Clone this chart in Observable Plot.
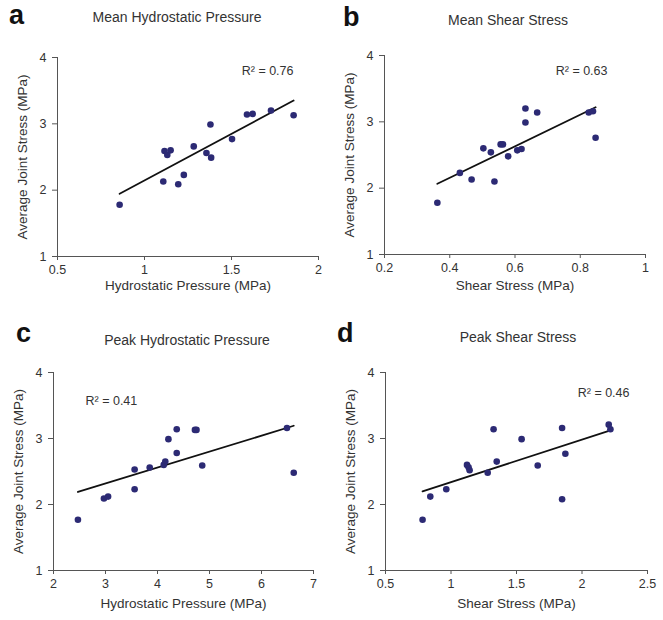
<!DOCTYPE html>
<html><head><meta charset="utf-8">
<script src="https://cdn.jsdelivr.net/npm/d3@7"></script>
<script src="https://cdn.jsdelivr.net/npm/@observablehq/plot@0.6"></script>
<style>
body{margin:0;background:#fff;}
#wrap{position:relative;width:663px;height:620px;overflow:hidden;background:#fff;font-family:Arial,"Liberation Sans",sans-serif;}
.panel{position:absolute;width:331px;height:310px;}
.panel svg{position:absolute;left:0;top:0;}
.letter{position:absolute;font-weight:bold;font-size:27px;color:#111;line-height:1;}
.title{position:absolute;font-size:14px;color:#333;transform:translate(-50%,-50%);white-space:nowrap;}
</style></head>
<body><div id="wrap"></div>
<script>
// ---- data ----
const letters = ["a", "b", "c", "d"];
const titles = ["Mean Hydrostatic Pressure", "Mean Shear Stress", "Peak Hydrostatic Pressure", "Peak Shear Stress"];
const xLabels = ["Hydrostatic Pressure (MPa)", "Shear Stress (MPa)", "Hydrostatic Pressure (MPa)", "Shear Stress (MPa)"];
const yLabel = "Average Joint Stress (MPa)";
const r2Labels = ["R\u00B2 = 0.76", "R\u00B2 = 0.63", "R\u00B2 = 0.41", "R\u00B2 = 0.46"];
const xTicks = [[0.5, 1, 1.5, 2], [0.2, 0.4, 0.6, 0.8, 1], [2, 3, 4, 5, 6, 7], [0.5, 1, 1.5, 2, 2.5]];
const yTicks = [1, 2, 3, 4];

const aX = [0.857, 1.108, 1.194, 1.226, 1.115, 1.131, 1.150, 1.283, 1.356, 1.379, 1.383, 1.503, 1.589, 1.622, 1.727, 1.857];
const aY = [1.78, 2.13, 2.09, 2.23, 2.59, 2.53, 2.60, 2.66, 2.56, 2.99, 2.49, 2.77, 3.14, 3.15, 3.20, 3.13];

const bX = [0.362, 0.431, 0.467, 0.537, 0.503, 0.526, 0.556, 0.563, 0.579, 0.607, 0.620, 0.632, 0.632, 0.668, 0.826, 0.839, 0.847];
const bY = [1.78, 2.23, 2.13, 2.10, 2.60, 2.54, 2.66, 2.66, 2.48, 2.57, 2.59, 2.99, 3.20, 3.14, 3.14, 3.16, 2.76];

const cX = [2.47, 2.97, 3.05, 3.56, 3.56, 3.85, 4.12, 4.15, 4.37, 4.21, 4.37, 4.72, 4.75, 4.86, 6.49, 6.62];
const cY = [1.77, 2.09, 2.12, 2.23, 2.53, 2.56, 2.60, 2.65, 2.78, 2.99, 3.14, 3.13, 3.13, 2.59, 3.16, 2.48];

const dX = [0.783, 0.842, 0.964, 1.122, 1.134, 1.142, 1.280, 1.325, 1.349, 1.539, 1.848, 1.873, 1.848, 2.204, 2.217, 1.662];
const dY = [1.77, 2.12, 2.23, 2.60, 2.565, 2.52, 2.48, 3.14, 2.65, 2.99, 3.16, 2.77, 2.08, 3.21, 3.14, 2.59];

const seriesX = [aX, bX, cX, dX];
const seriesY = [aY, bY, cY, dY];

// ---- layout ----
const panels = [
  {left: 0,   top: 0,   m: [57, 13, 57, 54], letter: [9, 2],  title: [177, 17], r2: {anchor: "top-right", dx: -25, dy: 13, ta: "end"}, xlab: 29},
  {left: 332, top: 0,   m: [52, 18, 55, 56], letter: [11, 4], title: [176, 20], r2: {anchor: "top-right", dx: -38, dy: 15, ta: "end"}, xlab: 31},
  {left: 0,   top: 310, m: [53, 18, 62, 50], letter: [16, 10], title: [187, 30], r2: {anchor: "top-left",  dx: 32,  dy: 28, ta: "start"}, xlab: 33},
  {left: 332, top: 310, m: [53, 16, 62, 50], letter: [5, 10],  title: [186, 27], r2: {anchor: "top-right", dx: -18, dy: 20, ta: "end"}, xlab: 33}
];

const wrap = document.getElementById("wrap");
const dotColor = "#2c2a74";
const axisColor = "#555";

panels.forEach((p, i) => {
  const data = seriesX[i].map((x, k) => ({x, y: seriesY[i][k]}));
  const xd = [xTicks[i][0], xTicks[i][xTicks[i].length - 1]];
  const div = document.createElement("div");
  div.className = "panel";
  div.style.left = p.left + "px";
  div.style.top = p.top + "px";

  const chart = Plot.plot({
    width: 331,
    height: 310,
    marginLeft: p.m[0], marginRight: p.m[1], marginTop: p.m[2], marginBottom: p.m[3],
    style: {fontFamily: "Arial, 'Liberation Sans', sans-serif", fontSize: "12.5px", color: "#333", background: "transparent"},
    x: {domain: xd},
    y: {domain: [1, 4]},
    marks: [
      Plot.ruleY([1], {stroke: axisColor, strokeWidth: 1}),
      Plot.ruleX([xd[0]], {stroke: axisColor, strokeWidth: 1}),
      Plot.axisX(xTicks[i], {tickSize: 4, tickPadding: 5, tickFormat: d => String(d), label: null, stroke: axisColor, fontSize: 12.5}),
      Plot.axisY(yTicks, {tickSize: 5, tickPadding: 6, tickFormat: d => String(d), label: null, stroke: axisColor, fontSize: 12.5}),
      Plot.linearRegressionY(data, {x: "x", y: "y", ci: 0, stroke: "#111", strokeWidth: 1.8}),
      Plot.dot(data, {x: "x", y: "y", r: 3.3, fill: dotColor, stroke: "none"}),
      Plot.text([r2Labels[i]], {text: d => d, frameAnchor: p.r2.anchor, dx: p.r2.dx, dy: p.r2.dy, textAnchor: p.r2.ta, lineAnchor: "middle", fontSize: 12.5, fill: "#333"}),
      Plot.text([xLabels[i]], {text: d => d, frameAnchor: "bottom", dy: p.xlab, textAnchor: "middle", lineAnchor: "middle", fontSize: 13.5, fill: "#333"}),
      Plot.text([yLabel], {text: d => d, frameAnchor: "left", dx: -35, rotate: -90, textAnchor: "middle", lineAnchor: "middle", fontSize: 13.5, fill: "#333"})
    ]
  });
  div.appendChild(chart);

  const L = document.createElement("div");
  L.className = "letter";
  L.textContent = letters[i];
  L.style.left = p.letter[0] + "px";
  L.style.top = p.letter[1] + "px";
  div.appendChild(L);

  const T = document.createElement("div");
  T.className = "title";
  T.textContent = titles[i];
  T.style.left = p.title[0] + "px";
  T.style.top = p.title[1] + "px";
  div.appendChild(T);

  wrap.appendChild(div);
});
</script>
</body></html>
